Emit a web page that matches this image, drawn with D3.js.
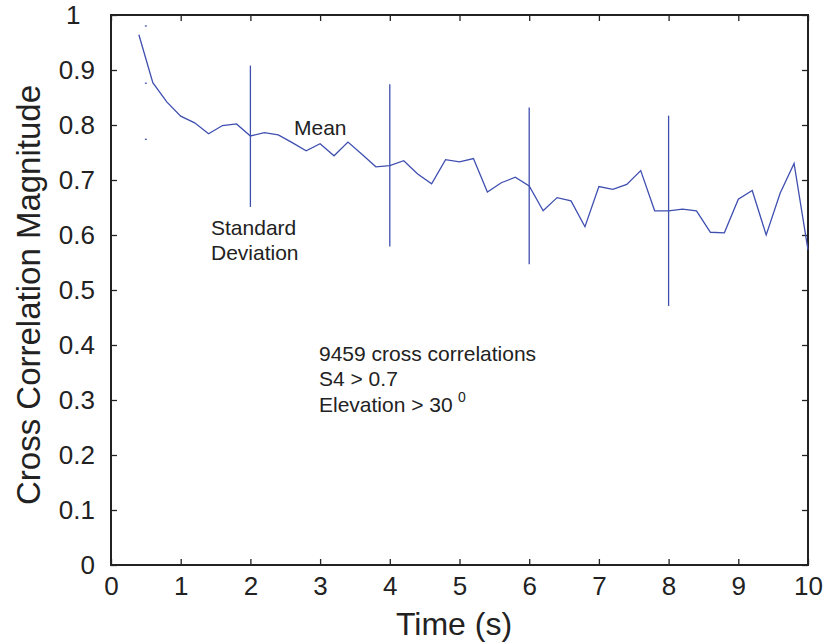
<!DOCTYPE html>
<html>
<head>
<meta charset="utf-8">
<script src="https://cdn.jsdelivr.net/npm/d3@7"></script>
<style>
  body { margin: 0; background: #fff; }
  text { font-family: "Liberation Sans", Arial, sans-serif; fill: #222; }
</style>
</head>
<body>
<div id="container"></div>
<script>
// mean cross correlation vs time lag
var times = [0.4, 0.6, 0.8, 1.0, 1.2, 1.4, 1.6, 1.8, 2.0, 2.2, 2.4, 2.6, 2.8, 3.0, 3.2, 3.4, 3.6, 3.8,
    4.0, 4.2, 4.4, 4.6, 4.8, 5.0, 5.2, 5.4, 5.6, 5.8, 6.0, 6.2, 6.4, 6.6, 6.8, 7.0, 7.2, 7.4, 7.6,
    7.8, 8.0, 8.2, 8.4, 8.6, 8.8, 9.0, 9.2, 9.4, 9.6, 9.8, 10.0];
var means = [0.964, 0.877, 0.842, 0.816, 0.804, 0.784, 0.799, 0.802, 0.780, 0.786, 0.782, 0.768, 0.753,
    0.766, 0.744, 0.769, 0.747, 0.724, 0.726, 0.735, 0.711, 0.693, 0.737, 0.733, 0.739, 0.678, 0.695,
    0.705, 0.689, 0.644, 0.668, 0.662, 0.615, 0.688, 0.683, 0.692, 0.717, 0.644, 0.644, 0.647, 0.644,
    0.605, 0.604, 0.665, 0.681, 0.600, 0.676, 0.730, 0.573];

// standard deviation bars
var barTimes = [2, 4, 6, 8];
var barLow = [0.651, 0.579, 0.547, 0.471];
var barHigh = [0.908, 0.874, 0.832, 0.817];

// the faint dots near t = 0.5
var dotTime = 0.5;
var dotValues = [0.774, 0.876, 0.98];

var xTicks = [0, 1, 2, 3, 4, 5, 6, 7, 8, 9, 10];
var yTicks = [0, 0.1, 0.2, 0.3, 0.4, 0.5, 0.6, 0.7, 0.8, 0.9, 1];

var W = 828, H = 643;
var plotLeft = 111, plotRight = 808, plotTop = 15, plotBottom = 565;
var lineColor = '#3f4fb0';

var svg = d3.select('#container')
    .append('svg')
    .attr('width', W)
    .attr('height', H);

var x = d3.scaleLinear().domain([0, 10]).range([plotLeft, plotRight]);
var y = d3.scaleLinear().domain([0, 1]).range([plotBottom, plotTop]);

// axes, ticks point inward, mirrored on top and right
var tickLen = 6;
svg.append('g')
    .attr('transform', 'translate(0,' + plotBottom + ')')
    .call(d3.axisBottom(x).tickValues(xTicks).tickSizeInner(-tickLen).tickSizeOuter(0).tickPadding(12)
        .tickFormat(d3.format('d')))
    .call(function (g) {
        g.select('.domain').remove();
        g.selectAll('text').style('font-size', '26px').attr('fill', '#222');
    });
svg.append('g')
    .attr('transform', 'translate(0,' + plotTop + ')')
    .call(d3.axisTop(x).tickValues(xTicks).tickSizeInner(-tickLen).tickSizeOuter(0).tickFormat(''))
    .call(function (g) { g.select('.domain').remove(); });
svg.append('g')
    .attr('transform', 'translate(' + plotLeft + ',0)')
    .call(d3.axisLeft(y).tickValues(yTicks).tickSizeInner(-tickLen).tickSizeOuter(0).tickPadding(16)
        .tickFormat(function (d) { return d === 0 || d === 1 ? d3.format('d')(d) : d3.format('.1f')(d); }))
    .call(function (g) {
        g.select('.domain').remove();
        g.selectAll('text').style('font-size', '26px').attr('fill', '#222');
        // the top label sits further left, like the original
        g.selectAll('text').filter(function (d) { return d === 1; })
            .attr('text-anchor', 'start')
            .attr('x', 66 - plotLeft);
    });
svg.append('g')
    .attr('transform', 'translate(' + plotRight + ',0)')
    .call(d3.axisRight(y).tickValues(yTicks).tickSizeInner(-tickLen).tickSizeOuter(0).tickFormat(''))
    .call(function (g) { g.select('.domain').remove(); });

svg.selectAll('.tick line').attr('stroke', '#222').attr('stroke-width', 1.3);

svg.append('rect')
    .attr('x', plotLeft)
    .attr('y', plotTop)
    .attr('width', plotRight - plotLeft)
    .attr('height', plotBottom - plotTop)
    .attr('fill', 'none')
    .attr('stroke', '#222')
    .attr('stroke-width', 2);

// mean line
var meanData = times.map(function (t, i) { return { t: t, v: means[i] }; });
var line = d3.line()
    .x(function (d) { return x(d.t); })
    .y(function (d) { return y(d.v); })
    .curve(d3.curveLinear);

svg.append('path')
    .attr('d', line(meanData))
    .attr('fill', 'none')
    .attr('stroke', lineColor)
    .attr('stroke-width', 1.3);

// std bars
svg.selectAll('.sd')
    .data(barTimes)
    .enter().append('line')
    .attr('class', 'sd')
    .attr('x1', function (d) { return x(d); })
    .attr('x2', function (d) { return x(d); })
    .attr('y1', function (d, i) { return y(barLow[i]); })
    .attr('y2', function (d, i) { return y(barHigh[i]); })
    .attr('stroke', lineColor)
    .attr('stroke-width', 1.3);

svg.selectAll('.dot')
    .data(dotValues)
    .enter().append('rect')
    .attr('class', 'dot')
    .attr('x', x(dotTime) - 1)
    .attr('y', function (d) { return y(d) - 0.6; })
    .attr('width', 2)
    .attr('height', 1.2)
    .attr('fill', lineColor);

// annotations
function label(txt, px, py, size) {
    return svg.append('text')
        .attr('x', px)
        .attr('y', py)
        .style('font-size', (size || 21) + 'px')
        .text(txt);
}
label('Mean', 294, 135);
label('Standard', 211, 235);
label('Deviation', 211, 260);
label('9459 cross correlations', 319, 361);
label('S4 > 0.7', 319, 386);
label('Elevation > 30', 319, 412);
label('0', 458, 402, 14);

// axis titles
svg.append('text')
    .attr('x', 454)
    .attr('y', 635)
    .attr('text-anchor', 'middle')
    .style('font-size', '32px')
    .text('Time (s)');

svg.append('text')
    .attr('transform', 'translate(40,295) rotate(-90)')
    .attr('text-anchor', 'middle')
    .style('font-size', '33px')
    .text('Cross Correlation Magnitude');
</script>
</body>
</html>
